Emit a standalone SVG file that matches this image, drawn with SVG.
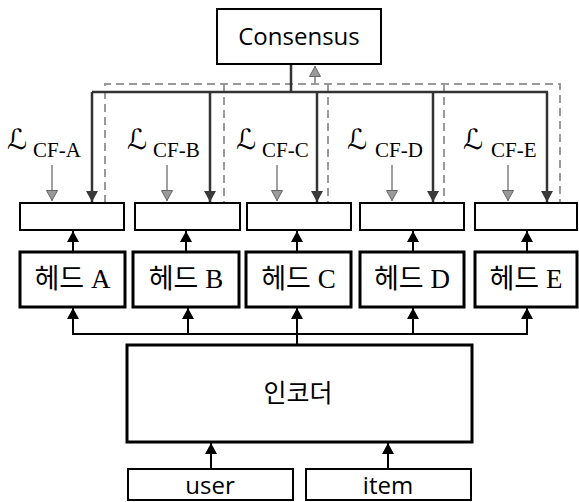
<svg xmlns="http://www.w3.org/2000/svg" width="579" height="502" viewBox="0 0 579 502">
<defs>
<marker id="ab" markerUnits="userSpaceOnUse" markerWidth="12" markerHeight="12" refX="11" refY="6" orient="auto"><path d="M0,0 L11,6 L0,12 z" fill="#000"/></marker>
<marker id="ad" markerUnits="userSpaceOnUse" markerWidth="12" markerHeight="12" refX="11" refY="6" orient="auto"><path d="M0,0 L11,6 L0,12 z" fill="#3a3a3a"/></marker>
<marker id="ag" markerUnits="userSpaceOnUse" markerWidth="12" markerHeight="12" refX="11" refY="6" orient="auto"><path d="M0.5,0.5 L10.5,6 L0.5,11.5 z" fill="#9a9a9a" stroke="#666" stroke-width="1"/></marker>
</defs>
<style>
.box{fill:#fff;stroke:#000;stroke-width:2}
.thick{fill:#fff;stroke:#000;stroke-width:3}
.sans{font-family:"Open Sans","Noto Sans CJK KR",sans-serif;font-size:24px;fill:#000;text-anchor:middle}
.kr{font-family:"Noto Sans CJK KR",sans-serif;font-size:25px;font-weight:400;fill:#000;text-anchor:middle}
.head{font-family:"Liberation Serif","Noto Sans CJK KR",serif;font-size:27px;fill:#000;text-anchor:middle}
.L{font-family:"DejaVu Sans","DejaVu Serif",sans-serif;font-size:28px;fill:#000}
.cf{font-family:"Liberation Serif",serif;font-size:21px;fill:#000}
.solid{stroke:#333;stroke-width:2.5;fill:none}
.dash{stroke:#9a9a9a;stroke-width:2;stroke-dasharray:8,5;fill:none}
.garr{stroke:#808080;stroke-width:1.5;fill:none}
.bus{stroke:#000;stroke-width:2;fill:none}
</style>
<g id="connectors">
<path class="dash" d="M105,203 V84 H560 V203 M224,84 V203 M328,84 V203 M444,84 V203"/>
<path class="dash" d="M315,84 V66" marker-end="url(#ag)"/>
<path class="solid" d="M291,64 V92 M92,92 H548"/>
<path class="solid" d="M92,92 V202" marker-end="url(#ad)"/>
<path class="solid" d="M210,92 V202" marker-end="url(#ad)"/>
<path class="solid" d="M317,92 V202" marker-end="url(#ad)"/>
<path class="solid" d="M433,92 V202" marker-end="url(#ad)"/>
<path class="solid" d="M547,92 V202" marker-end="url(#ad)"/>
<path class="garr" d="M52,165 V201" marker-end="url(#ag)"/>
<path class="garr" d="M167,165 V201" marker-end="url(#ag)"/>
<path class="garr" d="M277,165 V201" marker-end="url(#ag)"/>
<path class="garr" d="M392,165 V201" marker-end="url(#ag)"/>
<path class="garr" d="M508,165 V201" marker-end="url(#ag)"/>
<path class="bus" d="M73,251 V231" marker-end="url(#ab)"/>
<path class="bus" d="M186,251 V231" marker-end="url(#ab)"/>
<path class="bus" d="M297,251 V231" marker-end="url(#ab)"/>
<path class="bus" d="M413,251 V231" marker-end="url(#ab)"/>
<path class="bus" d="M527,251 V231" marker-end="url(#ab)"/>
<path class="bus" d="M72,334 H528 M297,345 V334"/>
<path class="bus" d="M73,334 V308" marker-end="url(#ab)"/>
<path class="bus" d="M188,334 V308" marker-end="url(#ab)"/>
<path class="bus" d="M297,334 V308" marker-end="url(#ab)"/>
<path class="bus" d="M413,334 V308" marker-end="url(#ab)"/>
<path class="bus" d="M527,334 V308" marker-end="url(#ab)"/>
<path class="bus" d="M211,469 V443" marker-end="url(#ab)"/>
<path class="bus" d="M388,469 V443" marker-end="url(#ab)"/>
</g>
<g id="consensus"><rect class="box" x="217" y="9" width="164" height="55"/><text class="sans" x="299" y="45">Consensus</text></g>
<g id="loss-a"><text class="L" x="7" y="149">ℒ</text><text class="cf" x="33" y="157">CF-A</text></g>
<g id="loss-b"><text class="L" x="127" y="149">ℒ</text><text class="cf" x="153" y="157">CF-B</text></g>
<g id="loss-c"><text class="L" x="236" y="149">ℒ</text><text class="cf" x="262" y="157">CF-C</text></g>
<g id="loss-d"><text class="L" x="347" y="149">ℒ</text><text class="cf" x="375" y="157">CF-D</text></g>
<g id="loss-e"><text class="L" x="463" y="149">ℒ</text><text class="cf" x="491" y="157">CF-E</text></g>
<g id="out-a"><rect class="box" x="20" y="203" width="104" height="27"/></g>
<g id="out-b"><rect class="box" x="135" y="203" width="105" height="27"/></g>
<g id="out-c"><rect class="box" x="247" y="203" width="104" height="27"/></g>
<g id="out-d"><rect class="box" x="360" y="203" width="104" height="27"/></g>
<g id="out-e"><rect class="box" x="475" y="203" width="102" height="27"/></g>
<g id="head-a"><rect class="thick" x="20" y="252" width="105" height="55"/><text class="head" x="72.5" y="288">헤드 A</text></g>
<g id="head-b"><rect class="thick" x="133" y="252" width="106" height="55"/><text class="head" x="186" y="288">헤드 B</text></g>
<g id="head-c"><rect class="thick" x="246" y="252" width="105" height="55"/><text class="head" x="298.5" y="288">헤드 C</text></g>
<g id="head-d"><rect class="thick" x="360" y="252" width="104" height="55"/><text class="head" x="412" y="288">헤드 D</text></g>
<g id="head-e"><rect class="thick" x="475" y="252" width="102" height="55"/><text class="head" x="526" y="288">헤드 E</text></g>
<g id="encoder"><rect class="thick" x="127" y="345" width="345" height="97"/><text class="kr" x="298" y="402">인코더</text></g>
<g id="user"><rect class="box" x="128" y="469" width="165" height="31"/><text class="sans" x="210" y="494">user</text></g>
<g id="item"><rect class="box" x="306" y="469" width="165" height="31"/><text class="sans" x="388" y="494">item</text></g>
</svg>
